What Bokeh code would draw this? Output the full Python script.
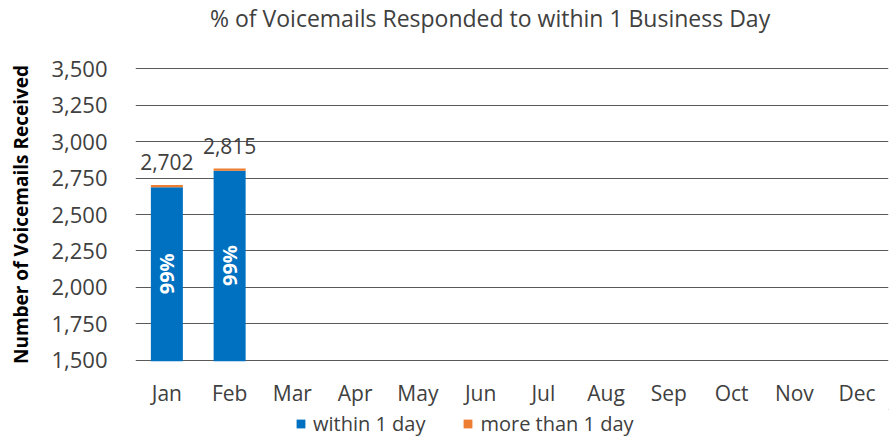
from bokeh.plotting import figure
from bokeh.layouts import column
from bokeh.models import (ColumnDataSource, Legend, LegendItem, NumeralTickFormatter,
                          FixedTicker, Range1d, LabelSet, Div)
from bokeh.core.properties import value
from bokeh.embed import file_html
from bokeh.resources import INLINE
import math

months = ["Jan", "Feb", "Mar", "Apr", "May", "Jun", "Jul", "Aug", "Sep", "Oct", "Nov", "Dec"]
data_months = ["Jan", "Feb"]
within_1_day = [2687, 2800]
more_than_1_day = [15, 15]
totals = [2702, 2815]
pct_labels = ["99%", "99%"]
y_ticks = [1500, 1750, 2000, 2250, 2500, 2750, 3000, 3250, 3500]
series_names = ["within 1 day", "more than 1 day"]
title_text = "% of Voicemails Responded to within 1 Business Day"

FONT = "Open Sans"
TXT = "#404040"
BLUE = "#0070C0"
ORANGE = "#ED7D31"
GRID = "#595959"

src = ColumnDataSource(dict(
    month=data_months,
    within=within_1_day,
    more=more_than_1_day,
    total=totals,
    top_more=[w + m for w, m in zip(within_1_day, more_than_1_day)],
    pct=pct_labels,
    pct_y=[(y_ticks[0] + w) / 2 for w in within_1_day],
    total_lbl=["{:,}".format(t) for t in totals],
))

title = Div(text=title_text, width=896, height=36, margin=0,
            styles={"font-family": FONT, "font-size": "23px", "color": TXT,
                    "line-height": "36px", "padding-left": "210px",
                    "white-space": "nowrap", "box-sizing": "border-box"})

pad = 7
p = figure(x_range=months, y_range=Range1d(y_ticks[0] - pad, y_ticks[-1] + pad),
           width=896, height=373, output_backend="svg", toolbar_location=None,
           min_border_left=135, min_border_right=8, min_border_top=31, min_border_bottom=41)
p.outline_line_color = None
p.background_fill_color = "white"

r1 = p.vbar(x="month", bottom=0, top="within", width=0.51, source=src,
            fill_color=BLUE, line_color=None)
r2 = p.vbar(x="month", bottom="within", top="top_more", width=0.51, source=src,
            fill_color=ORANGE, line_color=None)

p.add_layout(LabelSet(x="month", y="total", text="total_lbl", source=src,
                      text_align="center", text_baseline="bottom", y_offset=15,
                      text_font=value(FONT), text_font_size="21px", text_color=TXT))
p.add_layout(LabelSet(x="month", y="pct_y", text="pct", source=src, angle=math.pi / 2,
                      text_align="center", text_baseline="middle",
                      text_font=value(FONT), text_font_size="20px", text_font_style="bold",
                      text_color="white"))

p.yaxis.ticker = FixedTicker(ticks=y_ticks)
p.yaxis.formatter = NumeralTickFormatter(format="0,0")
p.yaxis.axis_line_color = None
p.yaxis.major_tick_line_color = None
p.yaxis.minor_tick_line_color = None
p.yaxis.major_tick_out = 0
p.yaxis.major_label_text_font = FONT
p.yaxis.major_label_text_font_size = "22px"
p.yaxis.major_label_text_color = TXT
p.yaxis.major_label_standoff = 28
p.yaxis.axis_label = "Number of Voicemails Received"
p.yaxis.axis_label_text_font = FONT
p.yaxis.axis_label_text_font_size = "19px"
p.yaxis.axis_label_text_font_style = "bold"
p.yaxis.axis_label_text_color = "#000000"
p.yaxis.axis_label_standoff = 14

p.xaxis.axis_line_color = None
p.xaxis.major_tick_line_color = None
p.xaxis.minor_tick_line_color = None
p.xaxis.major_tick_out = 0
p.xaxis.major_label_text_font = FONT
p.xaxis.major_label_text_font_size = "21px"
p.xaxis.major_label_text_color = TXT
p.xaxis.major_label_standoff = 17

p.xgrid.grid_line_color = None
p.ygrid.grid_line_color = GRID
p.ygrid.grid_line_width = 1
p.ygrid.level = "underlay"

# legend strip below the chart (its swatch renderers sit outside the visible range)
lg = figure(width=896, height=28, output_backend="svg", toolbar_location=None,
            x_axis_location=None, y_axis_location=None,
            min_border=0, x_range=Range1d(0, 1), y_range=Range1d(0, 1))
lg.grid.visible = False
lg.outline_line_color = None
d1 = lg.vbar(x="within", bottom="within", top="within", width=0.5, source=src,
             fill_color=BLUE, line_color=None)
d2 = lg.vbar(x="within", bottom="within", top="within", width=0.5, source=src,
             fill_color=ORANGE, line_color=None)
legend = Legend(items=[LegendItem(label=series_names[0], renderers=[d1]),
                       LegendItem(label=series_names[1], renderers=[d2])],
                orientation="horizontal", location=(160, 0),
                label_text_font=FONT, label_text_font_size="20px", label_text_color=TXT,
                glyph_width=11, glyph_height=11, label_standoff=7, spacing=37,
                padding=0, margin=0,
                border_line_color=None, background_fill_alpha=0)
lg.add_layout(legend)

layout = column(title, p, lg, spacing=0)
open("out.html", "w").write(file_html(layout, INLINE))
